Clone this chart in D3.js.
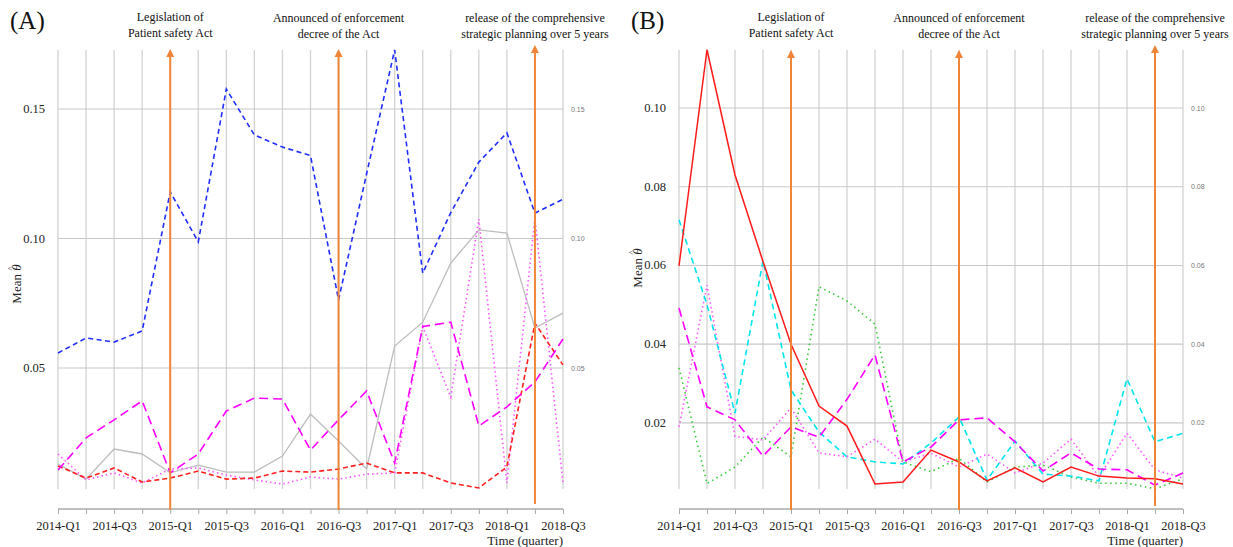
<!DOCTYPE html>
<html>
<head>
<meta charset="utf-8">
<script src="https://cdn.jsdelivr.net/npm/d3@7"></script>
<style>
  body { margin: 0; background: #fff; }
</style>
</head>
<body>
<svg id="chart"></svg>
<script>
const width = 1233
const height = 547
const serif = '"Liberation Serif", "Times New Roman", Times, "DejaVu Serif", serif'

const quarters = ['2014-Q1','2014-Q2','2014-Q3','2014-Q4','2015-Q1','2015-Q2','2015-Q3','2015-Q4',
  '2016-Q1','2016-Q2','2016-Q3','2016-Q4','2017-Q1','2017-Q2','2017-Q3','2017-Q4','2018-Q1','2018-Q2','2018-Q3']
const tickLabels = ['2014-Q1','2014-Q3','2015-Q1','2015-Q3','2016-Q1','2016-Q3','2017-Q1','2017-Q3','2018-Q1','2018-Q3']

const events = ['2015-Q1', '2016-Q3', '2018-Q2']
const eventLabels = [
  ['Legislation of', 'Patient safety Act'],
  ['Announced of enforcement', 'decree of the Act'],
  ['release of the comprehensive', 'strategic planning over 5 years']
]

// panel A series
const aBlue = [0.0558,0.0616,0.0600,0.0643,0.1180,0.0987,0.1577,0.1400,0.1353,0.1320,0.0763,0.1250,0.1728,0.0866,0.1100,0.1295,0.1408,0.1098,0.1152]
const aGray = [0.0129,0.0071,0.0187,0.0168,0.0095,0.0125,0.0098,0.0098,0.0160,0.0322,0.0218,0.0110,0.0585,0.0677,0.0905,0.1033,0.1021,0.0654,0.0712]
const aMagenta = [0.0106,0.0230,0.0300,0.0373,0.0095,0.0168,0.0334,0.0384,0.0380,0.0183,0.0300,0.0411,0.0133,0.0660,0.0677,0.0276,0.0350,0.0446,0.0612]
const aRed = [0.0122,0.0075,0.0114,0.0060,0.0075,0.0102,0.0071,0.0075,0.0102,0.0098,0.0110,0.0133,0.0095,0.0095,0.0056,0.0037,0.0118,0.0673,0.0512]
const aViolet = [0.0168,0.0068,0.0095,0.0056,0.0110,0.0114,0.0087,0.0068,0.0052,0.0079,0.0071,0.0090,0.0095,0.0660,0.0388,0.1075,0.0056,0.1080,0.0056]

// panel B series
const bRed = [0.0599,0.1148,0.0830,0.0610,0.0400,0.0243,0.0192,0.0045,0.0050,0.0131,0.0101,0.0053,0.0086,0.0050,0.0088,0.0065,0.0060,0.0058,0.0045]
const bCyan = [0.0716,0.0500,0.0225,0.0612,0.0284,0.0177,0.0114,0.0101,0.0096,0.0149,0.0215,0.0055,0.0154,0.0070,0.0065,0.0053,0.0312,0.0152,0.0174]
const bMagenta = [0.0492,0.0241,0.0208,0.0116,0.0190,0.0164,0.0260,0.0373,0.0101,0.0139,0.0208,0.0213,0.0152,0.0078,0.0124,0.0083,0.0081,0.0042,0.0073]
const bViolet = [0.0190,0.0550,0.0166,0.0157,0.0238,0.0124,0.0114,0.0159,0.0101,0.0123,0.0088,0.0121,0.0073,0.0098,0.0159,0.0063,0.0174,0.0081,0.0060]
const bGreen = [0.0340,0.0046,0.0088,0.0164,0.0114,0.0546,0.0510,0.0451,0.0101,0.0076,0.0110,0.0050,0.0088,0.0093,0.0063,0.0047,0.0047,0.0033,0.0058]

const aTicks = [0.05, 0.10, 0.15]
const bTicks = [0.02, 0.04, 0.06, 0.08, 0.10]

const panels = [
  {
    tag: '(A)', left: 58, right: 563, y0: 497.5, yRef: 0.15, yRefPx: 109, ticks: aTicks,
    titleY: 284, titleX: 17, arrowTops: [49, 49, 45], arrowBottoms: [510, 510, 504],
    series: [
      {values: aGray, color: '#bdbdbd', dash: null, w: 1.3},
      {values: aViolet, color: '#ff55ff', dash: '1.5,3', w: 1.6},
      {values: aRed, color: '#ff2020', dash: '5,3', w: 1.6},
      {values: aMagenta, color: '#ff00ff', dash: '9,5', w: 1.6},
      {values: aBlue, color: '#1f2eff', dash: '5,3.5', w: 1.6}
    ]
  },
  {
    tag: '(B)', left: 679, right: 1183, y0: 501.7, yRef: 0.10, yRefPx: 108, ticks: bTicks,
    titleY: 268, titleX: 638, arrowTops: [50, 50, 45], arrowBottoms: [510, 510, 506],
    series: [
      {values: bGreen, color: '#33cc33', dash: '1.5,3.5', w: 1.6},
      {values: bViolet, color: '#ff55ff', dash: '1.5,3', w: 1.6},
      {values: bCyan, color: '#00e5ee', dash: '6,4', w: 1.6},
      {values: bMagenta, color: '#ff00ff', dash: '9,5', w: 1.6},
      {values: bRed, color: '#ff1a1a', dash: null, w: 1.5}
    ]
  }
]

const svg = d3.select('#chart').attr('width', width).attr('height', height)
  .attr('font-family', serif)

function drawPanel(p) {
  const g = svg.append('g')
  const x = d3.scalePoint().domain(quarters).range([p.left, p.right])
  const y = d3.scaleLinear().domain([0, p.yRef]).range([p.y0, p.yRefPx])
  const gridTop = 50
  const gridBottom = 489

  // vertical grid
  g.selectAll('.vgrid').data(quarters).enter().append('line')
    .attr('x1', d => x(d)).attr('x2', d => x(d))
    .attr('y1', gridTop).attr('y2', gridBottom)
    .attr('stroke', '#d2d2d2').attr('stroke-width', 1.3)

  // horizontal grid
  g.selectAll('.hgrid').data(p.ticks).enter().append('line')
    .attr('x1', p.left).attr('x2', p.right)
    .attr('y1', d => y(d)).attr('y2', d => y(d))
    .attr('stroke', '#c8c8c8').attr('stroke-width', 1.2)

  // left labels
  g.selectAll('.ylab').data(p.ticks).enter().append('text')
    .attr('x', p.left - 13).attr('y', d => y(d) + 4)
    .attr('text-anchor', 'end').attr('font-size', 12.5).attr('fill', '#222')
    .attr('font-family', serif)
    .text(d => d.toFixed(2))

  // right small labels
  g.selectAll('.ylabR').data(p.ticks).enter().append('text')
    .attr('x', p.right + 8).attr('y', d => y(d) + 2.5)
    .attr('font-size', 7).attr('fill', '#777')
    .attr('font-family', '"Liberation Sans", Arial, sans-serif')
    .text(d => d.toFixed(2))

  // x axis
  const xAxis = d3.axisBottom(x).tickSize(5).tickFormat(d => tickLabels.includes(d) ? d : '')
  const ax = g.append('g').attr('transform', `translate(0,509)`).call(xAxis)
    .attr('font-family', serif).attr('font-size', 12.5)
  ax.select('.domain').attr('stroke', '#aaa').attr('stroke-width', 1.3).attr('d', `M${p.left},0H${p.right}`)
  ax.selectAll('.tick line').attr('stroke', '#aaa')
  ax.selectAll('.tick text').attr('fill', '#222').attr('dy', '1.05em')

  g.append('text')
    .attr('x', p.right).attr('y', 545)
    .attr('text-anchor', 'end').attr('font-size', 13).attr('fill', '#222')
    .attr('font-family', serif)
    .text('Time (quarter)')

  // y title with hat over theta
  const t = g.append('text')
    .attr('transform', `translate(${p.titleX + 4},${p.titleY}) rotate(-90)`)
    .attr('text-anchor', 'middle').attr('font-size', 13).attr('fill', '#222')
    .attr('font-family', serif)
  t.append('tspan').text('Mean ')
  t.append('tspan').attr('font-style', 'italic').text('θ')
  t.append('tspan').attr('font-size', 9).attr('dx', -6).attr('dy', -7).text('^')

  // panel tag
  g.append('text')
    .attr('x', p.left - 48).attr('y', 29)
    .attr('font-size', 25).attr('fill', '#111')
    .attr('font-family', serif)
    .text(p.tag)

  // series
  const line = d3.line()
    .x((d, i) => x(quarters[i]))
    .y(d => y(d))
  p.series.forEach(s => {
    g.append('path')
      .datum(s.values)
      .attr('d', line)
      .attr('fill', 'none')
      .attr('stroke', s.color)
      .attr('stroke-width', s.w)
      .attr('stroke-dasharray', s.dash)
  })

  // event arrows and labels
  events.forEach((e, i) => {
    g.append('line')
      .attr('x1', x(e)).attr('x2', x(e))
      .attr('y1', p.arrowBottoms[i]).attr('y2', p.arrowTops[i] + 6)
      .attr('stroke', '#f08538').attr('stroke-width', 2)
    g.append('path')
      .attr('d', `M${x(e) - 4},${p.arrowTops[i] + 8} L${x(e)},${p.arrowTops[i]} L${x(e) + 4},${p.arrowTops[i] + 8} Z`)
      .attr('fill', '#f08538')
    const lt = g.append('text')
      .attr('text-anchor', 'middle').attr('font-size', 12).attr('fill', '#111')
      .attr('font-family', serif)
    eventLabels[i].forEach((l, j) => {
      lt.append('tspan').attr('x', x(e)).attr('y', 21 + i * 0.7 + j * 16).text(l)
    })
  })
}

panels.forEach(drawPanel)
</script>
</body>
</html>
